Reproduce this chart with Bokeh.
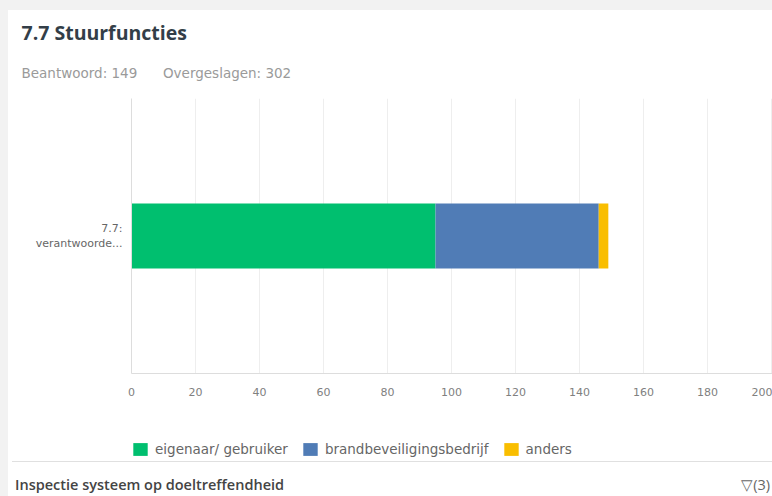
from bokeh.plotting import figure
from bokeh.models import (ColumnDataSource, Legend, LegendItem, FixedTicker,
                          Range1d, Title, Div)
from bokeh.layouts import column
from bokeh.embed import file_html
from bokeh.resources import INLINE

# ---- data ----
question = ["7.7:\nverantwoorde..."]
question_pos = [0.5]
series_names = ["eigenaar/ gebruiker", "brandbeveiligingsbedrijf", "anders"]
eigenaar = [95]
brandbeveiliging = [51]
anders = [3]
x_ticks = [0, 20, 40, 60, 80, 100, 120, 140, 160, 180, 200]
colors = ["#00BF6F", "#507CB6", "#F9BE00"]
title_text = "7.7 Stuurfuncties"
answered_text = "Beantwoord: 149"
skipped_text = "Overgeslagen: 302"
footer_text = "Inspectie systeem op doeltreffendheid"
filter_text = "\u25BD(3)"

W = 764
H_TOP, H_MAIN, H_LEG, H_FOOT = 10, 408, 43, 35
FL, FT, FB = 123, 88, 363

src = ColumnDataSource(dict(y=question_pos, e=eigenaar, b=brandbeveiliging, a=anders))

top_band = Div(text="", width=772, height=H_TOP, margin=(0, 0, 0, 0),
               styles={"background-color": "#f2f2f2"})

# ---------------- main chart ----------------
p = figure(width=W, height=H_MAIN, output_backend="svg", toolbar_location=None,
           x_range=Range1d(0, 200.3), y_range=Range1d(0, 1),
           min_border_left=FL, min_border_right=0, min_border_top=FT,
           min_border_bottom=H_MAIN - FB, margin=(0, 0, 0, 8))
p.outline_line_color = None
p.background_fill_color = "white"
p.border_fill_color = "white"

rs = p.hbar_stack(["e", "b", "a"], y="y", height=0.236, color=colors,
                  line_color=None, source=src)

# title (outermost) and subtitle (nearest the plot)
p.title.text = title_text
p.title.text_font = "Open Sans"
p.title.text_font_size = "19.5px"
p.title.text_font_style = "bold"
p.title.text_color = "#333e48"
p.title.align = "left"
p.title.offset = -110
p.title.standoff = 0
sub = Title(text=answered_text + "\u00a0" * 6 + skipped_text, text_font="DejaVu Sans",
            text_font_size="13.5px", text_font_style="normal", text_color="#9a9a9a",
            align="left", offset=-110, standoff=35)
p.add_layout(sub, "above")

xa = p.xaxis[0]
xa.ticker = FixedTicker(ticks=x_ticks)
xa.axis_line_color = "#dddddd"
xa.major_tick_line_color = None
xa.minor_tick_line_color = None
xa.major_label_standoff = 8
xa.major_label_text_font = "DejaVu Sans"
xa.major_label_text_font_size = "11px"
xa.major_label_text_color = "#808080"

ya = p.yaxis[0]
ya.ticker = FixedTicker(ticks=question_pos)
ya.major_label_overrides = {question_pos[0]: question[0]}
ya.axis_line_color = "#dddddd"
ya.major_tick_line_color = None
ya.minor_tick_line_color = None
ya.major_label_standoff = 3
ya.major_label_text_font = "DejaVu Sans"
ya.major_label_text_font_size = "11px"
ya.major_label_text_color = "#666666"
ya.major_label_text_line_height = 1.1

p.xgrid.grid_line_color = "#eeeeee"
p.xgrid.ticker = FixedTicker(ticks=x_ticks)
p.ygrid.grid_line_color = None

# ---------------- legend strip ----------------
lf = figure(width=W, height=H_LEG, output_backend="svg", toolbar_location=None,
            x_range=Range1d(1000, 1001), y_range=Range1d(1000, 1001),
            x_axis_type=None, y_axis_type=None, min_border=0, margin=(0, 0, 0, 8))
lf.outline_line_color = None
lf.border_fill_color = "white"
lf.grid.visible = False
lrs = lf.hbar_stack(["e", "b", "a"], y="y", height=0.236, color=colors,
                    line_color=None, source=src)
legend = Legend(items=[LegendItem(label=n, renderers=[r]) for n, r in zip(series_names, lrs)],
                orientation="horizontal", location=(0, 4),
                glyph_width=18, glyph_height=16, label_height=16,
                label_standoff=6, spacing=13, padding=0, margin=0,
                border_line_color=None, background_fill_alpha=0,
                label_text_font="DejaVu Sans", label_text_font_size="13.5px",
                label_text_color="#666666")
lf.add_layout(legend, "center")

# ---------------- footer ----------------
footer = Div(
    text=('<div style="background:#ffffff;width:764px;height:35px;">'
          '<div style="display:flex;justify-content:space-between;align-items:flex-start;'
          'box-sizing:border-box;width:760px;height:35px;margin-left:4px;'
          'border-top:1px solid #e0e0e0;padding:15px 2px 0 3px;line-height:16px;'
          'font-family:\'Open Sans\';font-size:14.5px;font-weight:600;color:#444444;">'
          '<span>' + footer_text + '</span>'
          '<span style="font-weight:normal;color:#666666;">' + filter_text + '</span>'
          '</div></div>'),
    width=W, height=H_FOOT, margin=(0, 0, 0, 8))

layout = column(top_band, p, lf, footer, spacing=0,
                styles={"background": "linear-gradient(to right, #f2f2f2 8px, #ffffff 8px)"})
open("out.html", "w").write(file_html(layout, INLINE))
